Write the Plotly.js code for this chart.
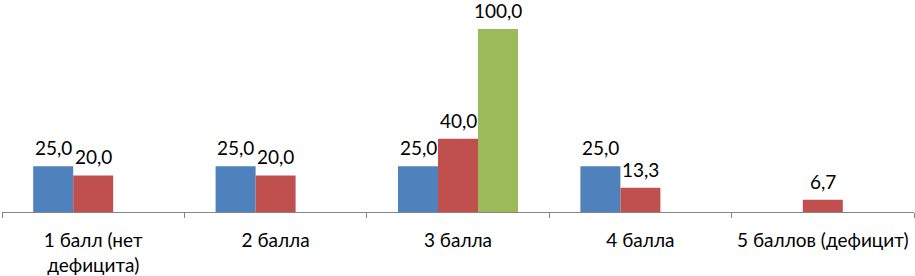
<!DOCTYPE html>
<html>
<head>
<meta charset="utf-8">
<script src="https://cdn.plot.ly/plotly-3.0.1.min.js"></script>
<style>html,body{margin:0;padding:0;background:#fff;}#chart{width:915px;height:276px;}</style>
</head>
<body>
<div id="chart"></div>
<script>
var categories = ["1 балл (нет<br>дефицита)", "2 балла", "3 балла", "4 балла", "5 баллов (дефицит)"];
var series1 = [25.0, 25.0, 25.0, 25.0, null];
var series2 = [20.0, 20.0, 40.0, 13.3, 6.7];
var series3 = [null, null, 100.0, null, null];
var seriesColors = ["#4F81BD", "#C0504D", "#9BBB59"];
var allSeries = [series1, series2, series3];

var FONT = "Lato, 'Noto Sans', sans-serif";
function fmt(v) { return v.toFixed(1).replace(".", ","); }

var traces = allSeries.map(function (s, i) {
  return {
    type: "bar",
    x: categories,
    y: s,
    marker: { color: seriesColors[i] },
    hoverinfo: "none"
  };
});

var annotations = [];
var shifts = [-40, 0, 40];
allSeries.forEach(function (s, i) {
  s.forEach(function (v, j) {
    if (v === null) return;
    annotations.push({
      x: categories[j], y: v, xref: "x", yref: "y",
      text: fmt(v), showarrow: false,
      xshift: shifts[i], yanchor: "bottom", yshift: 6, borderpad: 0,
      font: { family: FONT, size: 19, color: "#000" }
    });
  });
});

var layout = {
  width: 915, height: 276,
  margin: { l: 2, r: 1, t: 29, b: 64 },
  paper_bgcolor: "#fff", plot_bgcolor: "#fff",
  showlegend: false,
  barmode: "group", bargap: 0.342, bargroupgap: 0,
  xaxis: {
    type: "category", showgrid: false, zeroline: false,
    showline: true, linecolor: "#868686", linewidth: 1,
    ticks: "outside", tickson: "boundaries", ticklen: 5, tickcolor: "#868686",
    ticklabelstandoff: 11,
    tickfont: { family: FONT, size: 19, color: "#000" },
    range: [-0.5, 4.5]
  },
  yaxis: {
    range: [0, 100], visible: false, showgrid: false, zeroline: false, fixedrange: true
  },
  annotations: annotations
};

Plotly.newPlot("chart", traces, layout, { displayModeBar: false, staticPlot: true });
</script>
</body>
</html>
